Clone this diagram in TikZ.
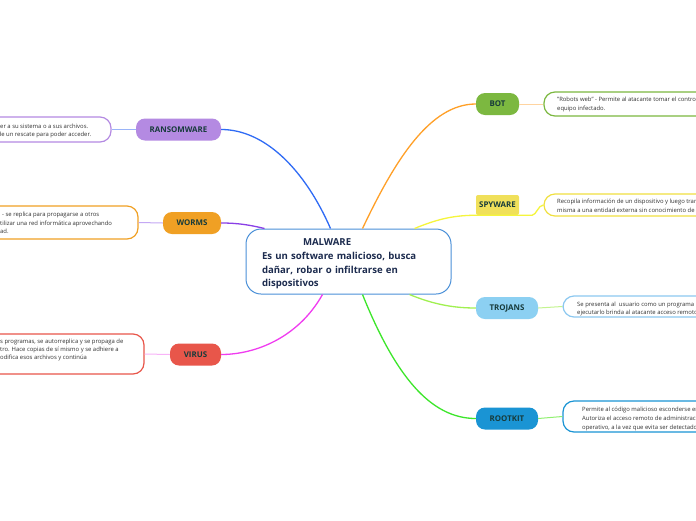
\documentclass[tikz,border=0pt]{standalone}
\usepackage{fontspec}
\setmainfont{Open Sans}
\usetikzlibrary{calc}
\definecolor{labeltxt}{HTML}{173B3B}
\definecolor{centertxt}{HTML}{1C2B4E}
\definecolor{centerbd}{HTML}{4A90D8}
\definecolor{cransom}{HTML}{B48AE2}
\definecolor{cworms}{HTML}{F0A024}
\definecolor{cvirus}{HTML}{E8564A}
\definecolor{cbot}{HTML}{7CB840}
\definecolor{cspy}{HTML}{F0E05A}
\definecolor{cspybd}{HTML}{F0E040}
\definecolor{ctroj}{HTML}{8CD0F2}
\definecolor{ctrojbd}{HTML}{8CC8F0}
\definecolor{croot}{HTML}{1A94D4}
\definecolor{lransom}{HTML}{2F6BF5}
\definecolor{lworms}{HTML}{8A3FE6}
\definecolor{lvirus}{HTML}{F03CF0}
\definecolor{lbot}{HTML}{FFA028}
\definecolor{lspy}{HTML}{F5F53C}
\definecolor{ltroj}{HTML}{A0F050}
\definecolor{lroot}{HTML}{3CE62A}
\definecolor{sransom}{HTML}{9AB4F8}
\definecolor{sworms}{HTML}{C4A8F4}
\definecolor{svirus}{HTML}{F8B4F8}
\definecolor{sbot}{HTML}{FFD4A0}
\definecolor{stroj}{HTML}{C4F490}
\definecolor{sroot}{HTML}{90F070}
\definecolor{desctxt}{HTML}{333333}
\begin{document}
\begin{tikzpicture}[x=1pt,y=-1pt,
  centerbox/.style={draw=centerbd, line width=1pt, fill=white, rounded corners=15pt,
    text width=173pt, inner xsep=16pt, minimum height=65pt, align=left,
    text height=11.5pt, text=centertxt, font=\bfseries\fontsize{9.6}{13.8}\selectfont},
  branch/.style={rounded corners=9pt, minimum height=22pt, inner sep=0pt,
    font=\bfseries\fontsize{7.9}{8}\selectfont, text=labeltxt},
  descbox/.style={line width=1.2pt, rounded corners=11pt, fill=white, inner sep=0pt},
  desctext/.style={anchor=base west, align=left, inner sep=0pt, text=desctxt,
    font=\fontsize{5.9}{8.5}\selectfont},
  mainline/.style={line width=1.3pt},
  subline/.style={line width=1pt}]
\useasboundingbox (0,0) rectangle (696,520);
\fill[white] (0,0) rectangle (696,520);
\begin{scope}
\clip (0,0) rectangle (696,520);

% central node
\node[centerbox] (mal) at (348.5,261.5) {\hspace*{41pt}MALWARE\\Es un software malicioso, busca\\dañar, robar o infiltrarse en\\dispositivos};

% branch nodes
\node[branch, fill=cransom, minimum width=85pt] (ransom) at (178.5,129.5) {RANSOMWARE};
\node[branch, fill=cworms, minimum width=58pt] (worms) at (192,223) {WORMS};
\node[branch, fill=cvirus, minimum width=51pt] (virus) at (195.5,354.5) {VIRUS};
\node[branch, fill=cbot, minimum width=43pt] (bot) at (497.5,104) {BOT};
\node[branch, fill=cspy, rounded corners=2pt, minimum width=43pt, minimum height=20pt] (spy) at (497.5,205) {SPYWARE};
\node[branch, fill=ctroj, minimum width=62pt] (troj) at (507,308) {TROJANS};
\node[branch, fill=croot, minimum width=62pt] (root) at (507,418.5) {ROOTKIT};

% description boxes
\node[descbox, draw=cransom, minimum width=171pt, minimum height=25pt] (ransomd) at (25.5,129.5) {};
\node[descbox, draw=cworms, minimum width=198pt, minimum height=33pt] (wormsd) at (39,222.5) {};
\node[descbox, draw=cvirus, minimum width=204pt, minimum height=40pt] (virusd) at (42,354) {};
\node[descbox, draw=cbot, minimum width=216pt, minimum height=24pt] (botd) at (652,104) {};
\node[descbox, draw=cspybd, minimum width=216pt, minimum height=22pt] (spyd) at (652,205) {};
\node[descbox, draw=ctrojbd, minimum width=197pt, minimum height=21pt] (trojd) at (661.5,306.5) {};
\node[descbox, draw=croot, minimum width=197pt, minimum height=31pt] (rootd) at (661.5,416.5) {};

% description texts (base = baseline of last line)
\node[desctext, font=\fontsize{5.9}{8}\selectfont] (ransomt) at (0,136) {er a su sistema o a sus archivos.\\\hspace*{-2.5pt}de un rescate para poder acceder.};
\node[desctext] (wormst) at (0,233.5) {\hspace*{2pt}- se replica para propagarse a otros\\tilizar una red informática aprovechando\\ad.};
\node[desctext, font=\fontsize{5.9}{8}\selectfont] (virust) at (0,359.5) {s programas, se autorreplica y se propaga de\\tro. Hace copias de sí mismo y se adhiere a\\odifica esos archivos y continúa};
\node[desctext, font=\fontsize{5.9}{9}\selectfont] (bott) at (557,110.5) {"Robots web" - Permite al atacante tomar el control\\equipo infectado.};
\node[desctext, font=\fontsize{5.9}{9}\selectfont] (spyt) at (557,212.5) {Recopila información de un dispositivo y luego transmite\\misma a una entidad externa sin conocimiento de};
\node[desctext, font=\fontsize{5.9}{8}\selectfont] (trojt) at (577,314.5) {Se presenta al\ \ usuario como un programa\\ejecutarlo brinda al atacante acceso remoto};
\node[desctext, font=\fontsize{5.9}{9}\selectfont] (roott) at (582,429.5) {Permite al código malicioso esconderse en\\Autoriza el acceso remoto de administración\\operativo, a la vez que evita ser detectado};

% main connectors
\draw[mainline, lransom] ([xshift=85pt]mal.north west) .. controls (305,170) and (265,129.5) .. (ransom.east);
\draw[mainline, lworms] ([xshift=19pt]mal.north west) .. controls (250,225) and (238,223) .. (worms.east);
\draw[mainline, lvirus] ([xshift=77pt]mal.south west) .. controls (298,338) and (255,354.5) .. (virus.east);
\draw[mainline, lbot] ([xshift=117pt]mal.north west) .. controls (395,160) and (430,104) .. (bot.west);
\draw[mainline, lspy] ([xshift=169pt]mal.north west) .. controls (440,218) and (455,215.5) .. (spy.south west) -- (spy.south east) -- ([xshift=13pt]spy.south east) .. controls ([xshift=17pt]spy.south east) and ([xshift=19pt]spy.east) .. (spyd.west);
\draw[mainline, ltroj] ([xshift=164pt]mal.south west) .. controls (435,305) and (455,308) .. (troj.west);
\draw[mainline, lroot] ([xshift=117pt]mal.south west) .. controls (395,375) and (430,418.5) .. (root.west);

% sub connectors
\draw[subline, sransom] (ransom.west) -- (ransomd.east);
\draw[subline, sworms] (worms.west) -- (wormsd.east);
\draw[subline, svirus] (virus.west) -- (virusd.east);
\draw[subline, sbot] (bot.east) -- (botd.west);
\draw[subline, stroj] (troj.east) -- (trojd.west);
\draw[subline, sroot] (root.east) -- (rootd.west);
\end{scope}
\end{tikzpicture}
\end{document}
